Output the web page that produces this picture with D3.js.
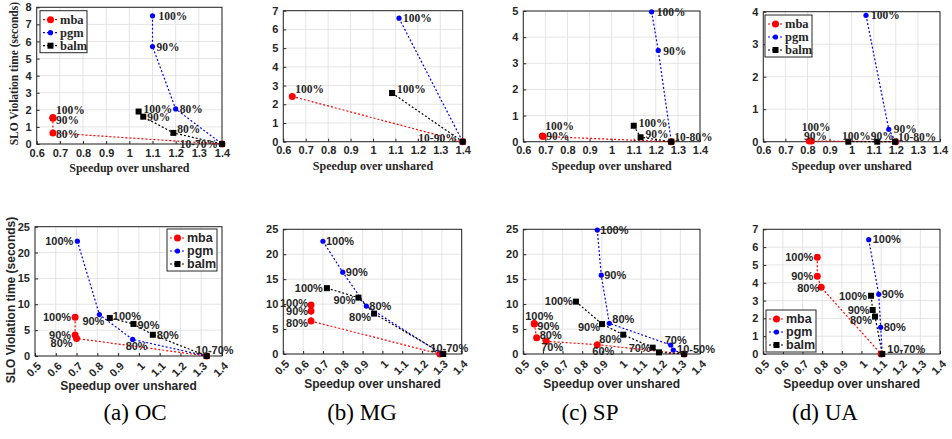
<!DOCTYPE html>
<html>
<head>
<meta charset="utf-8">
<script src="https://cdn.jsdelivr.net/npm/d3@7"></script>
<style>
  body { margin: 0; background: #fff; }
  svg { display: block; }
</style>
</head>
<body>
<svg id="chart" width="952" height="439"></svg>
<script>
// ---------------- data ----------------
// each point: [speedup, SLO violation seconds, label]
var seriesNames = ["mba", "pgm", "balm"];
var seriesColors = ["#ff0000", "#0000ff", "#000000"];

var xTicksTop = [0.6, 0.7, 0.8, 0.9, 1, 1.1, 1.2, 1.3, 1.4];
var xTicksBottom = [0.5, 0.6, 0.7, 0.8, 0.9, 1, 1.1, 1.2, 1.3, 1.4];

// (a) OC, top
var ocTopMba  = [[0.67, 1.55, "100%"], [0.67, 1.5, "90%"], [0.67, 0.65, "80%"], [1.4, 0, ""]];
var ocTopPgm  = [[1.1, 7.5, "100%"], [1.1, 5.7, "90%"], [1.2, 2.05, "80%"], [1.4, 0, ""]];
var ocTopBalm = [[1.04, 1.9, "100%"], [1.06, 1.6, "90%"], [1.19, 0.65, "80%"], [1.4, 0, "10-70%"]];
// (b) MG, top
var mgTopMba  = [[0.64, 2.42, "100%"], [1.4, 0, ""]];
var mgTopPgm  = [[1.116, 6.6, "100%"], [1.4, 0, ""]];
var mgTopBalm = [[1.085, 2.6, "100%"], [1.4, 0, "10-90%"]];
// (c) SP, top
var spTopMba  = [[0.686, 0.22, "100%"], [0.69, 0.2, "90%"], [1.27, 0, ""]];
var spTopPgm  = [[1.181, 4.97, "100%"], [1.211, 3.49, "90%"], [1.27, 0, ""]];
var spTopBalm = [[1.1, 0.61, "100%"], [1.131, 0.17, "90%"], [1.27, 0, "10-80%"]];
// (d) UA, top
var uaTopMba  = [[0.808, 0.02, "100%"], [0.818, 0.02, "90%"], [1.2, 0, ""]];
var uaTopPgm  = [[1.065, 3.89, "100%"], [1.168, 0.38, "90%"], [1.2, 0, ""]];
var uaTopBalm = [[0.985, 0, "100%"], [1.116, 0, "90%"], [1.196, 0, "10-80%"]];

// (a) OC, bottom
var ocBotMba  = [[0.693, 7.5, "100%"], [0.693, 4.06, "90%"], [0.70, 3.4, "80%"], [1.326, 0, ""]];
var ocBotPgm  = [[0.704, 22.2, "100%"], [0.81, 8.0, "90%"], [0.97, 3.2, "80%"], [1.326, 0, ""]];
var ocBotBalm = [[0.86, 7.35, "100%"], [0.974, 6.2, "90%"], [1.067, 4.1, "80%"], [1.326, 0, "10-70%"]];
// (b) MG, bottom
var mgBotMba  = [[0.64, 9.8, "100%"], [0.64, 8.6, "90%"], [0.64, 6.6, "80%"], [1.29, 0, ""]];
var mgBotPgm  = [[0.70, 22.6, "100%"], [0.80, 16.4, "90%"], [0.919, 9.6, "80%"], [1.3, 0, ""]];
var mgBotBalm = [[0.72, 13.2, "100%"], [0.879, 11.3, "90%"], [0.958, 8.1, "80%"], [1.307, 0, "10-70%"]];
// (c) SP, bottom
var spBotMba  = [[0.556, 6.1, "100%"], [0.556, 6.0, "90%"], [0.568, 3.27, "80%"], [0.617, 2.54, "70%"], [0.877, 1.87, "60%"], [1.319, 0, ""]];
var spBotPgm  = [[0.877, 24.85, "100%"], [0.897, 15.8, "90%"], [0.938, 6.15, "80%"], [1.251, 1.8, "70%"], [1.264, 0.8, ""], [1.319, 0, ""]];
var spBotBalm = [[0.768, 10.5, "100%"], [0.901, 6.0, "90%"], [1.009, 3.87, "80%"], [1.159, 1.27, "70%"], [1.191, 0.33, ""], [1.319, 0, "10-50%"]];
// (d) UA, bottom
var uaBotMba  = [[0.775, 5.43, "100%"], [0.775, 4.36, "90%"], [0.795, 3.74, "80%"], [1.1, 0, ""]];
var uaBotPgm  = [[1.037, 6.42, "100%"], [1.088, 3.35, "90%"], [1.098, 1.5, "80%"], [1.106, 0, ""]];
var uaBotBalm = [[1.049, 3.27, "100%"], [1.057, 2.47, "90%"], [1.069, 2.1, "80%"], [1.106, 0, "10-70%"]];

var captions = ["(a) OC", "(b) MG", "(c) SP", "(d) UA"];

// ---------------- layout ----------------
var SERIF = "'Liberation Serif', 'Times New Roman', serif";
var SANS = "'Liberation Sans', Arial, Helvetica, sans-serif";

// label offsets [dx, dy, anchor] per point, same order as data
var panels = [
  { rect: [36.7, 7.3, 222, 144], xd: [0.6, 1.4], yd: [0, 8], yt: d3.range(0, 9, 1), top: true,
    data: [ocTopMba, ocTopPgm, ocTopBalm], ylabel: true, legend: [40, 10.7],
    lbl: [[[3, -7.5, "s"], [3, 2, "s"], [3, 1, "s"], null],
          [[6, 0, "s"], [4, 0, "s"], [4, 0, "s"], null],
          [[5, -3, "s"], [4, 0, "s"], [4, -4, "s"], [-4, 0, "e"]]] },
  { rect: [283.3, 10.7, 462.7, 141.7], xd: [0.6, 1.4], yd: [0, 7], yt: d3.range(0, 8, 1), top: true,
    data: [mgTopMba, mgTopPgm, mgTopBalm],
    lbl: [[[3, -7, "s"], null], [[4, 0, "s"], null], [[5, -4, "s"], [-6, -4, "e"]]] },
  { rect: [523.3, 11, 700, 141.7], xd: [0.6, 1.4], yd: [0, 5], yt: d3.range(0, 6, 1), top: true,
    data: [spTopMba, spTopPgm, spTopBalm],
    lbl: [[[3, -10, "s"], [3, 0, "s"], null],
          [[5, 0, "s"], [5, 1, "s"], null],
          [[5, -3, "s"], [5, -3, "s"], [3, -5, "s"]]] },
  { rect: [763.3, 11.7, 940, 141.7], xd: [0.6, 1.4], yd: [0, 4], yt: d3.range(0, 5, 1), top: true,
    data: [uaTopMba, uaTopPgm, uaTopBalm], legend: [765, 15],
    lbl: [[[7, -14, "m"], [4, -5.5, "m"], null],
          [[5, 0, "s"], [5, 0, "s"], null],
          [[8, -6, "m"], [5, -6, "m"], [3, -5, "s"]]] },

  { rect: [35, 226.7, 222, 356], xd: [0.5, 1.4], yd: [0, 25], yt: d3.range(0, 26, 5), top: false,
    data: [ocBotMba, ocBotPgm, ocBotBalm], ylabel: true, legend: [167, 229],
    lbl: [[[-4, 0, "e"], [-4, 0, "e"], [-4, 5, "e"], null],
          [[-4, 0, "e"], [5, 7, "e"], [4, 7, "m"], null],
          [[3, -2, "s"], [4, 1, "s"], [4, 0, "s"], [8, -6, "m"]]] },
  { rect: [283.3, 229.3, 461.7, 354], xd: [0.5, 1.4], yd: [0, 25], yt: d3.range(0, 26, 5), top: false,
    data: [mgBotMba, mgBotPgm, mgBotBalm],
    lbl: [[[-3, -2, "e"], [-3, 0, "e"], [-3, 2, "e"], null],
          [[3, 0, "s"], [3, 0, "s"], [3, 0, "s"], null],
          [[-4, 0, "e"], [-3, 3, "e"], [-3, 4, "e"], [6, -6, "m"]]] },
  { rect: [523.3, 229.3, 700, 354], xd: [0.5, 1.4], yd: [0, 25], yt: d3.range(0, 26, 5), top: false,
    data: [spBotMba, spBotPgm, spBotBalm],
    lbl: [[[5, -7, "m"], [3, 2, "s"], [3, -3, "s"], [6, 6, "m"], [6, 6, "m"], null],
          [[3, 0, "s"], [3, 0, "s"], [3, -4, "s"], [5, -5, "m"], null, null],
          [[-3, 0, "e"], [-2, 3, "e"], [-2, 4, "e"], [-2, 0, "e"], null, [-7, -5, "s"]]] },
  { rect: [763.3, 229.3, 940, 354], xd: [0.5, 1.4], yd: [0, 7], yt: d3.range(0, 8, 1), top: false,
    data: [uaBotMba, uaBotPgm, uaBotBalm], legend: [766, 310],
    lbl: [[[-4, 0, "e"], [-4, 0, "e"], [-2, 1, "e"], null],
          [[4, 0, "s"], [3, 0, "s"], [3, 0, "s"], null],
          [[-4, 0, "e"], [-3, 0, "e"], [-3, 4, "e"], [5, -5, "s"]]] }
];

var captionX = [135, 362, 590, 825];
var anchorMap = { s: "start", e: "end", m: "middle" };

var svg = d3.select("#chart");

// draw one marker of a series
function marker(g, k, x, y) {
  if (k == 0) {
    g.append("circle").attr("cx", x).attr("cy", y).attr("r", 3.5).attr("fill", seriesColors[0]);
  } else if (k == 1) {
    g.append("circle").attr("cx", x).attr("cy", y).attr("r", 2.6).attr("fill", seriesColors[1]);
  } else {
    g.append("rect").attr("x", x - 3).attr("y", y - 3).attr("width", 6).attr("height", 6).attr("fill", seriesColors[2]);
  }
}

panels.forEach(function (p, pi) {
  var font = p.top ? SERIF : SANS;
  var x0 = p.rect[0], y0 = p.rect[1], x1 = p.rect[2], y1 = p.rect[3];
  var xTicks = p.top ? xTicksTop : xTicksBottom;

  var x = d3.scaleLinear().domain(p.xd).range([x0, x1]);
  var y = d3.scaleLinear().domain(p.yd).range([y1, y0]);

  var g = svg.append("g");

  // grid
  g.selectAll(".gx").data(xTicks).enter().append("line")
    .attr("x1", function (d) { return x(d); }).attr("x2", function (d) { return x(d); })
    .attr("y1", y0).attr("y2", y1)
    .attr("stroke", "#dedede").attr("stroke-width", 0.8);
  g.selectAll(".gy").data(p.yt).enter().append("line")
    .attr("y1", function (d) { return y(d); }).attr("y2", function (d) { return y(d); })
    .attr("x1", x0).attr("x2", x1)
    .attr("stroke", "#dedede").attr("stroke-width", 0.8);

  // axes with inward ticks
  var xAxis = g.append("g").attr("transform", "translate(0," + y1 + ")")
    .call(d3.axisBottom(x).tickValues(xTicks).tickSize(-3).tickPadding(5)
      .tickFormat(p.top ? d3.format("") : function () { return ""; }));
  var yAxis = g.append("g").attr("transform", "translate(" + x0 + ",0)")
    .call(d3.axisLeft(y).tickValues(p.yt).tickSize(-3).tickPadding(5).tickFormat(d3.format("")));
  [xAxis, yAxis].forEach(function (a) {
    a.select(".domain").remove();
    a.selectAll("line").attr("stroke", "#262626");
    a.selectAll("text").attr("fill", "#262626").style("font-family", SANS)
      .style("font-weight", "bold").style("font-size", "11px");
  });

  // rotated tick labels on the bottom row
  if (!p.top) {
    xTicks.forEach(function (t) {
      g.append("text")
        .attr("transform", "translate(" + (x(t) + 4) + "," + (y1 + 8) + ") rotate(-45)")
        .attr("text-anchor", "end").attr("dy", "0.35em")
        .attr("fill", "#262626").style("font-family", SANS)
        .style("font-weight", "bold").style("font-size", "11px")
        .text(d3.format("")(t));
    });
  }

  // box
  g.append("rect").attr("x", x0).attr("y", y0).attr("width", x1 - x0).attr("height", y1 - y0)
    .attr("fill", "none").attr("stroke", "#262626").attr("stroke-width", 1);

  // series lines and markers
  var line = d3.line().x(function (d) { return x(d[0]); }).y(function (d) { return y(d[1]); });
  p.data.forEach(function (s, k) {
    g.append("path").attr("d", line(s)).attr("fill", "none")
      .attr("stroke", seriesColors[k]).attr("stroke-width", 1.2).attr("stroke-dasharray", "2,2");
  });
  p.data.forEach(function (s, k) {
    s.forEach(function (d) { marker(g, k, x(d[0]), y(d[1])); });
  });

  // point labels
  p.data.forEach(function (s, k) {
    s.forEach(function (d, i) {
      var o = p.lbl[k][i];
      if (!o || !d[2]) return;
      g.append("text")
        .attr("x", x(d[0]) + o[0]).attr("y", y(d[1]) + o[1])
        .attr("dy", "0.35em")
        .attr("text-anchor", anchorMap[o[2]])
        .style("font-family", font).style("font-weight", "bold")
        .style("font-size", p.top ? "11.5px" : "11px")
        .attr("fill", "#262626")
        .text(d[2]);
    });
  });

  // x label
  g.append("text").attr("x", (x0 + x1) / 2).attr("y", p.top ? y1 + 28 : y1 + 34)
    .attr("text-anchor", "middle").attr("fill", "#262626")
    .style("font-family", font).style("font-weight", "bold").style("font-size", "12px")
    .text("Speedup over unshared");

  // y label
  if (p.ylabel) {
    var cx = p.top ? 18 : 15, cy = p.top ? (y0 + y1) / 2 - 2 : 300;
    g.append("text").attr("transform", "translate(" + cx + "," + cy + ") rotate(-90)")
      .attr("text-anchor", "middle").attr("fill", "#262626")
      .style("font-family", font).style("font-weight", "bold")
      .style("font-size", p.top ? "11.5px" : "12px")
      .text("SLO Violation time (seconds)");
  }

  // legend
  if (p.legend) {
    var lx = p.legend[0], ly = p.legend[1];
    var lg = g.append("g");
    lg.append("rect").attr("x", lx).attr("y", ly).attr("width", p.top ? 47 : 50).attr("height", 42)
      .attr("fill", "#fff").attr("stroke", "#262626").attr("stroke-width", 1);
    seriesNames.forEach(function (n, k) {
      var yy = ly + 9 + k * 13;
      lg.append("line").attr("x1", lx + 3).attr("x2", lx + 18).attr("y1", yy).attr("y2", yy)
        .attr("stroke", seriesColors[k]).attr("stroke-width", 1.2).attr("stroke-dasharray", "2,2");
      marker(lg, k, lx + 10.5, yy);
      lg.append("text").attr("x", lx + 20).attr("y", yy).attr("dy", "0.35em")
        .style("font-family", font).style("font-weight", "bold").style("font-size", "12.5px")
        .attr("fill", "#262626").text(n);
    });
  }
});

// captions
svg.selectAll(".cap").data(captions).enter().append("text")
  .attr("x", function (d, i) { return captionX[i]; })
  .attr("y", 420)
  .attr("text-anchor", "middle")
  .style("font-family", SERIF).style("font-size", "23px")
  .attr("fill", "#000")
  .text(function (d) { return d; });
</script>
</body>
</html>
